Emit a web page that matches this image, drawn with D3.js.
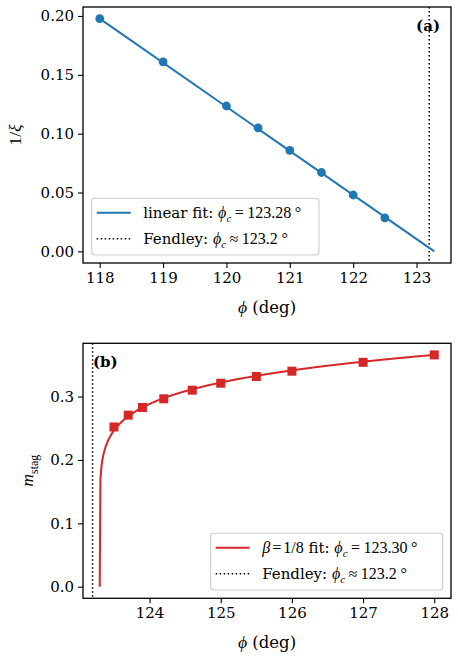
<!DOCTYPE html>
<html>
<head>
<meta charset="utf-8">
<script src="https://cdn.jsdelivr.net/npm/d3@7"></script>
<style>
  body { margin: 0; background: #fff; }
</style>
</head>
<body>
<div id="chart"></div>
<script>
// panel (a): inverse correlation length vs phi
const phiA = [118, 119, 120, 120.5, 121, 121.5, 122, 122.5];
const invXi = [0.1977, 0.161, 0.1235, 0.105, 0.0858, 0.067, 0.0479, 0.0285];
const linFitPhiC = 123.28;
const linFitSlope = -0.03745;
const xTicksA = [118, 119, 120, 121, 122, 123];
const yTicksA = [0, 0.05, 0.10, 0.15, 0.20];

// panel (b): staggered magnetisation vs phi
const phiB = [123.5, 123.7, 123.9, 124.2, 124.6, 125, 125.5, 126, 127, 128];
const mStag = [0.252, 0.2706, 0.2827, 0.2964, 0.310, 0.321, 0.3316, 0.340, 0.354, 0.3657];
const powFitPhiC = 123.30;
const powFitBeta = 1 / 8;
const powFitAmp = 0.3014;
const xTicksB = [124, 125, 126, 127, 128];
const yTicksB = [0, 0.1, 0.2, 0.3];

const fendleyPhiC = 123.2;

const blue = "#1f77b4";
const red = "#d62728";
const textFont = "DejaVu Serif";
const mathFont = "Liberation Serif, DejaVu Serif";

const W = 458, H = 660;
const svg = d3.select("#chart").append("svg")
  .attr("width", W).attr("height", H)
  .style("font-family", textFont);

// pad a [min,max] extent by 5% like matplotlib
function padded(lo, hi) {
  const p = (hi - lo) * 0.05;
  return [lo - p, hi + p];
}

// text made of roman / italic / sub parts; math parts a bit larger
function richText(parent, x, y, parts, size) {
  const t = parent.append("text").attr("x", x).attr("y", y).attr("font-size", size);
  let shift = 0;
  parts.forEach(p => {
    const s = t.append("tspan").text(p.t);
    let target = 0;
    let fs = p.m ? size * 1.07 : size;
    if (p.k === "sub") { target = size * 0.28; fs = size * 0.72; }
    s.attr("font-size", fs);
    if (target !== shift) { s.attr("dy", target - shift); shift = target; }
    if (p.dx) s.attr("dx", p.dx);
    s.attr("font-family", p.m ? mathFont : textFont);
    if (p.i) s.attr("font-style", "italic");
  });
  return t;
}

function drawAxes(g, x, y, xTicks, yTicks, yFmt, box) {
  const xa = g.append("g").attr("transform", `translate(0,${box.bottom})`)
    .call(d3.axisBottom(x).tickValues(xTicks).tickSize(5).tickPadding(4).tickFormat(d3.format("d")));
  const ya = g.append("g").attr("transform", `translate(${box.left},0)`)
    .call(d3.axisLeft(y).tickValues(yTicks).tickSize(5).tickPadding(4).tickFormat(d3.format(yFmt)));
  [xa, ya].forEach(a => {
    a.select(".domain").remove();
    a.selectAll("line").attr("stroke", "#000").attr("stroke-width", 1.1);
    a.selectAll("text").attr("font-family", textFont).attr("font-size", 15).attr("fill", "#000");
  });
}

function frame(g, box) {
  g.append("rect")
    .attr("x", box.left).attr("y", box.top)
    .attr("width", box.right - box.left).attr("height", box.bottom - box.top)
    .attr("fill", "none").attr("stroke", "#000").attr("stroke-width", 1.3);
}

function legend(g, lx, ly, lw, lh, rows) {
  g.append("rect")
    .attr("x", lx).attr("y", ly).attr("width", lw).attr("height", lh)
    .attr("rx", 3).attr("fill", "#fff").attr("fill-opacity", 0.8)
    .attr("stroke", "#cccccc").attr("stroke-width", 1.1);
  rows.forEach((r, i) => {
    const cy = ly + 14.5 + i * 26;
    g.append("line")
      .attr("x1", lx + 5).attr("x2", lx + 39).attr("y1", cy).attr("y2", cy)
      .attr("stroke", r.color).attr("stroke-width", r.dash ? 1.5 : 2)
      .attr("stroke-dasharray", r.dash || null);
    richText(g, lx + 51.5, cy + 5.2, r.parts, 15);
  });
}

// math pieces shared by the legends
const phiC = [{ t: "ϕ", m: 1, i: 1 }, { t: "c", m: 1, i: 1, k: "sub" }];
const rel = (op, val) => [
  { t: op, m: 1, dx: 3.5 },
  { t: val, m: 1, dx: 3.5 },
  { t: "°", m: 1, dx: 3.5 }
];

// ---------- panel (a) ----------
const boxA = { left: 83, right: 451, top: 7, bottom: 263 };
const gA = svg.append("g");
const xA = d3.scaleLinear().domain(padded(d3.min(phiA), linFitPhiC)).range([boxA.left, boxA.right]);
const fitA = p => linFitSlope * (p - linFitPhiC);
const yA = d3.scaleLinear().domain(padded(0, fitA(d3.min(phiA)))).range([boxA.bottom, boxA.top]);

gA.append("line")
  .attr("x1", xA(fendleyPhiC)).attr("x2", xA(fendleyPhiC))
  .attr("y1", boxA.top).attr("y2", boxA.bottom)
  .attr("stroke", "#000").attr("stroke-width", 1.5).attr("stroke-dasharray", "1.5,2.5");

const fitLineA = [d3.min(phiA), linFitPhiC];
gA.append("path")
  .attr("d", d3.line().x(p => xA(p)).y(p => yA(fitA(p)))(fitLineA))
  .attr("fill", "none").attr("stroke", blue).attr("stroke-width", 2);

gA.selectAll("circle.pt").data(phiA).enter().append("circle")
  .attr("cx", d => xA(d)).attr("cy", (d, i) => yA(invXi[i]))
  .attr("r", 4.4).attr("fill", blue);

drawAxes(gA, xA, yA, xTicksA, yTicksA, ".2f", boxA);
frame(gA, boxA);

legend(gA, 91.7, 198.3, 227.3, 56.7, [
  { color: blue, parts: [{ t: "linear fit: " }, ...phiC, ...rel("=", "123.28")] },
  { color: "#000", dash: "1.5,2.5", parts: [{ t: "Fendley: " }, ...phiC, ...rel("≈", "123.2")] }
]);

gA.append("text").attr("x", 440).attr("y", 31).attr("text-anchor", "end")
  .attr("font-size", 15).attr("font-weight", "bold").text("(a)");

richText(gA, (boxA.left + boxA.right) / 2, 313, [{ t: "ϕ", m: 1, i: 1 }, { t: " (deg)" }], 16.5)
  .attr("text-anchor", "middle");
richText(gA, 0, 0, [{ t: "1/", m: 1 }, { t: "ξ", m: 1, i: 1 }], 16.5)
  .attr("text-anchor", "middle")
  .attr("transform", `translate(21,${(boxA.top + boxA.bottom) / 2}) rotate(-90)`);

// ---------- panel (b) ----------
const boxB = { left: 83, right: 451, top: 343.3, bottom: 598.3 };
const gB = svg.append("g");
const xB = d3.scaleLinear().domain(padded(powFitPhiC, d3.max(phiB))).range([boxB.left, boxB.right]);
const yB = d3.scaleLinear().domain(padded(0, d3.max(mStag))).range([boxB.bottom, boxB.top]);

gB.append("line")
  .attr("x1", xB(fendleyPhiC)).attr("x2", xB(fendleyPhiC))
  .attr("y1", boxB.top).attr("y2", boxB.bottom)
  .attr("stroke", "#000").attr("stroke-width", 1.5).attr("stroke-dasharray", "1.5,2.5");

// fitted m ~ A (phi - phi_c)^beta, sampled on an even grid
const fitGrid = d3.range(501).map(i => powFitPhiC + (d3.max(phiB) - powFitPhiC) * i / 500);
gB.append("path")
  .attr("d", d3.line()
    .x(p => xB(p))
    .y(p => yB(powFitAmp * Math.pow(Math.max(p - powFitPhiC, 0), powFitBeta)))(fitGrid))
  .attr("fill", "none").attr("stroke", red).attr("stroke-width", 2);

const sq = 9;
gB.selectAll("rect.pt").data(phiB).enter().append("rect")
  .attr("x", d => xB(d) - sq / 2).attr("y", (d, i) => yB(mStag[i]) - sq / 2)
  .attr("width", sq).attr("height", sq).attr("fill", red);

drawAxes(gB, xB, yB, xTicksB, yTicksB, ".1f", boxB);
frame(gB, boxB);

legend(gB, 210.7, 533.3, 232, 56.7, [
  { color: red, parts: [{ t: "β", m: 1, i: 1 }, { t: "=", m: 1, dx: 2 }, { t: "1/8", m: 1, dx: 2 }, { t: " fit: " }, ...phiC, ...rel("=", "123.30")] },
  { color: "#000", dash: "1.5,2.5", parts: [{ t: "Fendley: " }, ...phiC, ...rel("≈", "123.2")] }
]);

gB.append("text").attr("x", 93).attr("y", 367).attr("font-size", 15)
  .attr("font-weight", "bold").text("(b)");

richText(gB, (boxB.left + boxB.right) / 2, 648, [{ t: "ϕ", m: 1, i: 1 }, { t: " (deg)" }], 16.5)
  .attr("text-anchor", "middle");
richText(gB, 0, 0, [{ t: "m", m: 1, i: 1 }, { t: "stag", m: 1, k: "sub" }], 16.5)
  .attr("text-anchor", "middle")
  .attr("transform", `translate(33,${(boxB.top + boxB.bottom) / 2}) rotate(-90)`);
</script>
</body>
</html>
